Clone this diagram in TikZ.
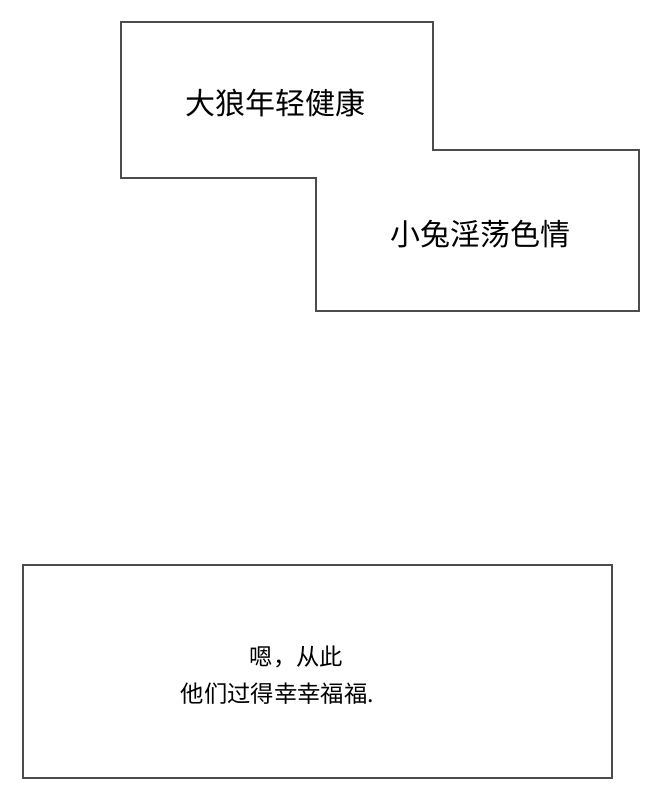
\documentclass[tikz,border=0pt]{standalone}
\usepackage{fontspec}
\newfontfamily\cjk{Noto Sans CJK SC}
\begin{document}
\begin{tikzpicture}[x=0.75pt,y=-0.75pt,
    panel/.style={draw=black!70,line width=0.8pt},
    bigtxt/.style={font=\cjk\fontsize{22.5}{26}\selectfont},
    smalltxt/.style={font=\cjk\fontsize{17.5}{20}\selectfont,anchor=west}]
  \useasboundingbox (0,0) rectangle (662,802);
  % top caption
  \draw[panel] (121,22) -- (433,22) -- (433,150) -- (639,150) -- (639,311)
      -- (316,311) -- (316,178) -- (121,178) -- cycle;
  \node[bigtxt] (wolf) at (275,103) {大狼年轻健康};
  \node[bigtxt] (rabbit) at (480,234) {小兔淫荡色情};
  % bottom caption
  \draw[panel] (23,565) rectangle (612,778);
  \node[smalltxt] (endone) at (245,657) {嗯，从此};
  \node[smalltxt] (endtwo) at (176,694) {他们过得幸幸福福.};
\end{tikzpicture}
\end{document}
